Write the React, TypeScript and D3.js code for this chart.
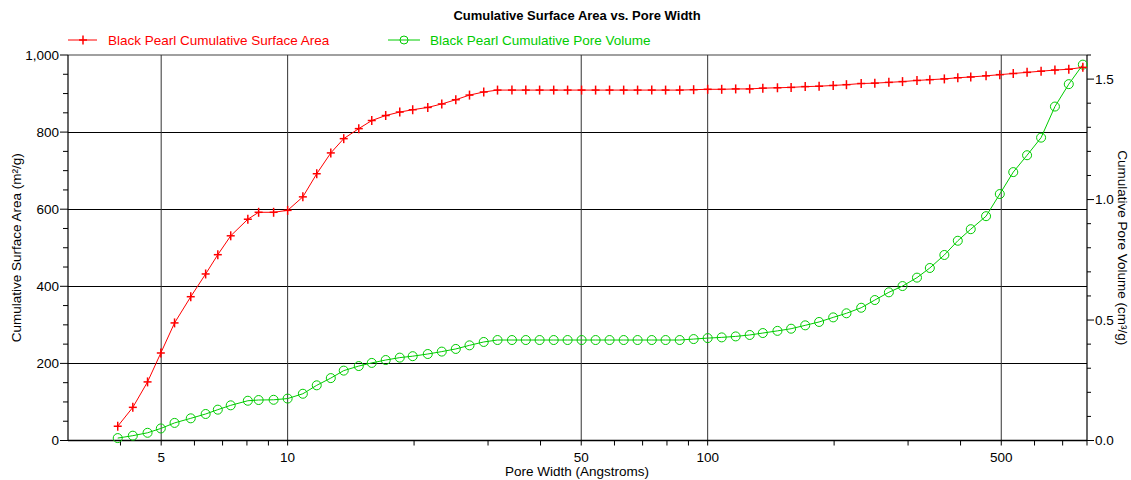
import React from "react";
import * as d3 from "d3";

const poreWidth = [
  3.94, 4.28, 4.64, 4.99, 5.38, 5.88, 6.38, 6.82, 7.32, 8.04, 8.53, 9.26, 10.0, 10.87,
  11.73, 12.67, 13.6, 14.77, 15.86, 17.12, 18.49, 19.85, 21.56, 23.28, 25.14, 27.1, 29.3,
  31.6, 34.2, 36.9, 39.8, 43.0, 46.4, 50.1, 54.1, 58.4, 63.1, 68.1, 73.6, 79.4, 85.8, 92.6,
  100, 108, 116.6, 125.9, 135.3, 146.6, 158, 170.7, 184.2, 199, 214, 232, 250, 270, 291,
  315, 338, 366, 394, 423, 460, 496, 534, 576, 622, 671, 724, 782,
];

const surfaceArea = [
  37, 86, 152, 227, 305, 373, 432, 482, 531, 574, 592, 592, 597, 632,
  692, 746, 783, 809, 830, 843, 852, 858, 864, 873, 884, 896, 904,
  909, 909, 909, 909, 909, 909, 909, 909, 909, 909, 909, 909, 909, 909, 910,
  911, 911, 912, 912, 914, 915, 916, 918, 919, 921, 923, 926, 927, 929, 931,
  934, 936, 938, 941, 943, 946, 949, 952, 955, 958, 961, 963, 968,
];

const poreVolume = [
  0.01, 0.02, 0.032, 0.05, 0.073, 0.092, 0.11, 0.128, 0.146, 0.165, 0.168, 0.169, 0.174, 0.194,
  0.229, 0.259, 0.29, 0.309, 0.322, 0.334, 0.344, 0.35, 0.359, 0.369, 0.38, 0.395, 0.409,
  0.417, 0.417, 0.417, 0.417, 0.417, 0.417, 0.417, 0.417, 0.417, 0.417, 0.417, 0.417, 0.417, 0.417, 0.421,
  0.425, 0.428, 0.432, 0.438, 0.446, 0.455, 0.464, 0.478, 0.492, 0.511, 0.528, 0.551, 0.583, 0.615, 0.641,
  0.676, 0.716, 0.77, 0.829, 0.877, 0.931, 1.023, 1.114, 1.184, 1.257, 1.386, 1.479, 1.56,
];

const xTickLabels = [5, 10, 50, 100, 500];
const xMinorTicks = [4, 5, 6, 7, 8, 9, 10, 20, 30, 40, 50, 60, 70, 80, 90, 100, 200, 300, 400, 500, 600, 700, 800];
const leftTicks = [0, 200, 400, 600, 800, 1000];
const leftMinor = d3.range(0, 1001, 50);
const rightTicks = [0, 0.5, 1.0, 1.5];
const rightMinor = d3.range(0, 1.61, 0.1);

const W = 1131;
const H = 480;
const FONT = "'Liberation Sans', Arial, sans-serif";
const RED = "#ff0000";
const GREEN = "#00cc00";
const FS = 13.5;

export default function App() {
  const x = d3.scaleLog().domain([3, 800]).range([68, 1087]);
  const yL = d3.scaleLinear().domain([0, 1000]).range([440.5, 55]);
  const yR = d3.scaleLinear().domain([0, 1.6]).range([440.5, 55]);

  const red = poreWidth.map((p, i) => [x(p), yL(surfaceArea[i])] as [number, number]);
  const green = poreWidth.map((p, i) => [x(p), yR(poreVolume[i])] as [number, number]);
  const line = d3.line();

  const x0 = x.range()[0];
  const x1 = x.range()[1];
  const yb = yL.range()[0];
  const yt = yL.range()[1];

  const plus = (cx: number, cy: number, k: string) => (
    <g key={k} stroke={RED} strokeWidth={1.5}>
      <line x1={cx - 4} x2={cx + 4} y1={cy} y2={cy} />
      <line x1={cx} x2={cx} y1={cy - 4.5} y2={cy + 4.5} />
    </g>
  );

  return (
    <svg width={W} height={H} style={{ position: "absolute", left: 0, top: 0, background: "#fff" }} fontFamily={FONT}>
      <rect x={0} y={0} width={W} height={H} fill="#fff" />
      <text x={577} y={20} textAnchor="middle" fontSize={13} fontWeight="bold" fill="#000">
        Cumulative Surface Area vs. Pore Width
      </text>

      {/* legend */}
      <line x1={68} x2={97} y1={40} y2={40} stroke={RED} strokeWidth={1} />
      {plus(83, 40, "lp")}
      <text x={108} y={44.5} fontSize={FS} fill={RED}>Black Pearl Cumulative Surface Area</text>
      <line x1={388} x2={420} y1={40} y2={40} stroke={GREEN} strokeWidth={1} />
      <circle cx={404} cy={40} r={4} fill="none" stroke={GREEN} strokeWidth={1} />
      <text x={430} y={44.5} fontSize={FS} fill={GREEN}>Black Pearl Cumulative Pore Volume</text>

      {/* grid */}
      {leftTicks.filter((t) => t > 0 && t < 1000).map((t) => (
        <line key={"gh" + t} x1={x0} x2={x1} y1={Math.round(yL(t)) + 0.5} y2={Math.round(yL(t)) + 0.5} stroke="#000" strokeWidth={1} />
      ))}
      <line x1={x0} x2={x1} y1={yt} y2={yt} stroke="#808080" strokeWidth={1.5} />
      {xTickLabels.map((t) => (
        <line key={"gv" + t} x1={x(t)} x2={x(t)} y1={yt} y2={yb} stroke="#333" strokeWidth={1} />
      ))}

      {/* axes */}
      <line x1={x0} x2={x0} y1={yt} y2={yb} stroke="#000" strokeWidth={1.2} />
      <line x1={x1} x2={x1} y1={yt} y2={yb} stroke="#000" strokeWidth={1.2} />
      <line x1={x0} x2={x1} y1={yb} y2={yb} stroke="#000" strokeWidth={1.5} />

      {leftMinor.map((t) => {
        const major = t % 200 === 0;
        return (
          <line key={"lt" + t} x1={x0 - (major ? 8 : 5)} x2={x0} y1={yL(t)} y2={yL(t)} stroke="#000" strokeWidth={1} />
        );
      })}
      {leftTicks.map((t) => (
        <text key={"ll" + t} x={59} y={yL(t) + 4.5} textAnchor="end" fontSize={FS} fill="#000">
          {d3.format(",")(t)}
        </text>
      ))}

      {rightMinor.map((t, i) => {
        const major = i % 5 === 0;
        return (
          <line key={"rt" + i} x1={x1} x2={x1 + (major ? 7 : 4)} y1={yR(t)} y2={yR(t)} stroke="#000" strokeWidth={1} />
        );
      })}
      {rightTicks.map((t) => (
        <text key={"rl" + t} x={1095} y={yR(t) + 4.5} textAnchor="start" fontSize={FS} fill="#000">
          {d3.format(".1f")(t)}
        </text>
      ))}

      {xMinorTicks.map((t) => (
        <line key={"xt" + t} x1={x(t)} x2={x(t)} y1={yb} y2={yb + 5} stroke="#000" strokeWidth={1} />
      ))}
      {xTickLabels.map((t) => (
        <text key={"xl" + t} x={x(t)} y={yb + 21} textAnchor="middle" fontSize={FS} fill="#000">
          {t}
        </text>
      ))}

      <text x={577} y={476} textAnchor="middle" fontSize={FS} fill="#000">Pore Width (Angstroms)</text>
      <text transform={`translate(21,${(yt + yb) / 2}) rotate(-90)`} textAnchor="middle" fontSize={FS} fill="#000">
        Cumulative Surface Area (m²/g)
      </text>
      <text transform={`translate(1118,${(yt + yb) / 2}) rotate(90)`} textAnchor="middle" fontSize={FS} fill="#000">
        Cumulative Pore Volume (cm³/g)
      </text>

      {/* series */}
      <path d={line(green) || ""} fill="none" stroke={GREEN} strokeWidth={1} />
      {green.map(([cx, cy], i) => (
        <circle key={"g" + i} cx={cx} cy={cy} r={4.5} fill="none" stroke={GREEN} strokeWidth={1} />
      ))}
      <path d={line(red) || ""} fill="none" stroke={RED} strokeWidth={1} />
      {red.map(([cx, cy], i) => plus(cx, cy, "r" + i))}
    </svg>
  );
}
